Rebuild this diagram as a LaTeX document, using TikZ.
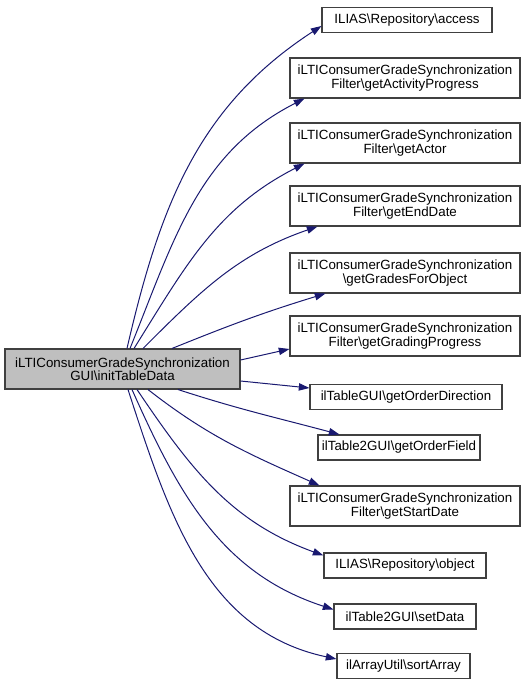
\documentclass[tikz,border=0pt]{standalone}
\usepackage{fontspec}
\setmainfont{Liberation Sans}
\usepackage{tikz}
\usetikzlibrary{arrows.meta}
\definecolor{callblue}{HTML}{191970}
\definecolor{srcgray}{HTML}{BFBFBF}
\definecolor{boxline}{HTML}{404040}
\newcommand{\bsl}{\textbackslash}

\begin{document}
\begin{tikzpicture}[x=0.75pt, y=-0.75pt,
    fn/.style={draw=boxline, line width=0.8pt, fill=white, align=center,
      inner sep=0pt, minimum height=18.75pt,
      font=\fontsize{10}{10}\selectfont},
    fntwo/.style={fn, minimum height=30pt},
    call/.style={callblue, line width=0.75pt,
      -{Triangle[length=8pt, width=5.5pt]}}]
  \useasboundingbox (0,0) rectangle (528,685);

  % caller
  \node[fntwo, fill=srcgray, minimum width=176.25pt] (src) at (122.5,369)
    {iLTIConsumerGradeSynchronization\\GUI\bsl initTableData};

  % callees
  \node[fn, minimum width=127.5pt] (access) at (407,20)
    {ILIAS\bsl Repository\bsl access};
  \node[fntwo, minimum width=172.5pt] (actprog) at (405,78)
    {iLTIConsumerGradeSynchronization\\Filter\bsl getActivityProgress};
  \node[fntwo, minimum width=172.5pt] (actor) at (405,143)
    {iLTIConsumerGradeSynchronization\\Filter\bsl getActor};
  \node[fntwo, minimum width=172.5pt] (enddate) at (405,206)
    {iLTIConsumerGradeSynchronization\\Filter\bsl getEndDate};
  \node[fntwo, minimum width=172.5pt] (grades) at (405,273)
    {iLTIConsumerGradeSynchronization\\\bsl getGradesForObject};
  \node[fntwo, minimum width=172.5pt] (gradprog) at (405,336)
    {iLTIConsumerGradeSynchronization\\Filter\bsl getGradingProgress};
  \node[fn, minimum width=144pt] (orderdir) at (406,397)
    {ilTableGUI\bsl getOrderDirection};
  \node[fn, minimum width=121.5pt] (orderfield) at (399,447.5)
    {ilTable2GUI\bsl getOrderField};
  \node[fntwo, minimum width=172.5pt] (startdate) at (405,506)
    {iLTIConsumerGradeSynchronization\\Filter\bsl getStartDate};
  \node[fn, minimum width=121.5pt] (object) at (405,565.5)
    {ILIAS\bsl Repository\bsl object};
  \node[fn, minimum width=106.5pt] (setdata) at (405,616.5)
    {ilTable2GUI\bsl setData};
  \node[fn, minimum width=99.75pt] (sortarr) at (403.5,666)
    {ilArrayUtil\bsl sortArray};

  % calls, upper fan
  \draw[call] ([shift={(4.5,0)}]src.north) to[out=77, in=213]
    ([shift={(0,6)}]access.west);
  \draw[call] ([shift={(7.5,0)}]src.north) to[out=68, in=207]
    ([shift={(15,0)}]actprog.south west);
  \draw[call] ([shift={(11.5,0)}]src.north) to[out=58, in=207]
    ([shift={(15,0)}]actor.south west);
  \draw[call] ([shift={(20.5,0)}]src.north) to[out=45, in=199]
    ([shift={(28,0)}]enddate.south west);
  \draw[call] ([shift={(49.5,0)}]src.north) to[out=22, in=197]
    ([shift={(36,0)}]grades.south west);
  \draw[call] ([shift={(0,-9)}]src.east) -- ([shift={(0,13)}]gradprog.west);

  % calls, lower fan
  \draw[call] ([shift={(0,12)}]src.east) -- ([shift={(0,-9)}]orderdir.west);
  \draw[call] ([shift={(55.5,0)}]src.south) to[out=-18, in=165]
    ([shift={(22,0)}]orderfield.north west);
  \draw[call] ([shift={(25.5,0)}]src.south) to[out=-38, in=156]
    ([shift={(30,0)}]startdate.north west);
  \draw[call] ([shift={(14.5,0)}]src.south) to[out=-56, in=160]
    ([shift={(0,-10)}]object.west);
  \draw[call] ([shift={(9.5,0)}]src.south) to[out=-66, in=162]
    ([shift={(0,-7)}]setdata.west);
  \draw[call] ([shift={(5.5,0)}]src.south) to[out=-72, in=168]
    ([shift={(0,-7)}]sortarr.west);
\end{tikzpicture}
\end{document}
